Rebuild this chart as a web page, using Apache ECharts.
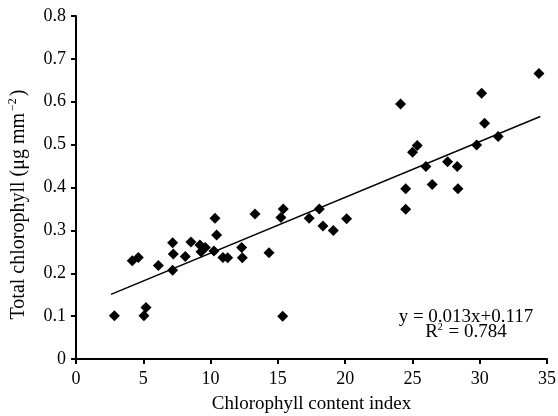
<!DOCTYPE html>
<html><head><meta charset="utf-8">
<script src="https://cdn.jsdelivr.net/npm/echarts@6/dist/echarts.min.js"></script>
<style>html,body{margin:0;padding:0;background:#fff}#c{width:558px;height:416px}</style>
</head><body><div id="c"></div>
<script>
const cciValues = [2.85,4.18,4.63,5.05,5.2,6.12,7.18,7.23,7.18,8.12,8.54,9.21,9.29,9.61,10.33,10.45,10.25,10.92,11.27,12.31,12.36,13.3,14.34,15.4,15.23,15.36,17.33,18.08,18.35,19.12,20.11,24.12,24.5,24.5,25.01,25.36,26.0,26.47,27.61,28.33,28.38,29.77,30.14,30.36,31.37,34.4];
const chlValues = [0.101,0.229,0.237,0.101,0.12,0.218,0.271,0.245,0.207,0.239,0.273,0.266,0.250,0.260,0.328,0.289,0.252,0.237,0.236,0.260,0.236,0.338,0.248,0.350,0.330,0.100,0.328,0.350,0.310,0.300,0.327,0.595,0.397,0.349,0.482,0.498,0.449,0.407,0.460,0.449,0.397,0.499,0.620,0.550,0.519,0.666];
const slope = 0.013, intercept = 0.117;
const fitRange = [2.6, 34.5];
const xTicks = {min:0, max:35, interval:5};
const yTicks = {min:0, max:0.8, interval:0.1};

const font = '"Liberation Serif","Times New Roman",serif';
const points = cciValues.map((x,i)=>[x, chlValues[i]]);
const fitLine = fitRange.map(x=>[x, slope*x+intercept]);

const chart = echarts.init(document.getElementById('c'));
const axisCommon = {
  axisLine:{show:true,onZero:false,lineStyle:{color:'#000',width:2}},
  axisTick:{show:true,inside:false,length:5,lineStyle:{color:'#000',width:2}},
  splitLine:{show:false},
  axisLabel:{color:'#000',fontFamily:font,fontSize:18},
  nameTextStyle:{color:'#000',fontFamily:font,fontSize:19}
};
chart.setOption({
  animation:false,
  backgroundColor:'#fff',
  grid:{left:76,right:11,top:16,bottom:57,containLabel:false,outerBoundsMode:'none'},
  xAxis:Object.assign({}, axisCommon, {
    type:'value', min:xTicks.min, max:xTicks.max, interval:xTicks.interval,
    name:'Chlorophyll content index', nameLocation:'middle', nameGap:36,
    axisLabel:Object.assign({}, axisCommon.axisLabel, {margin:11})
  }),
  yAxis:Object.assign({}, axisCommon, {
    type:'value', min:yTicks.min, max:yTicks.max, interval:yTicks.interval,
    name:'Total chlorophyll (μg mm{sup|−2})', nameLocation:'middle', nameGap:45, nameRotate:90,
    nameTextStyle:{color:'#000',fontFamily:font,fontSize:20,padding:[0,34,0,0],
      rich:{sup:{fontFamily:font,fontSize:12,verticalAlign:'top',padding:[0,2,12,2],color:'#000'}}},
    axisLabel:Object.assign({}, axisCommon.axisLabel, {margin:10})
  }),
  graphic:[
    {type:'text', x:466, y:317.5, style:{text:'y = 0.013x+0.117', fill:'#000', font:'19px '+font, textAlign:'center', textVerticalAlign:'middle'}},
    {type:'text', x:466, y:332.5, style:{text:'R{s|2} = 0.784', fill:'#000', font:'19px '+font, textAlign:'center', textVerticalAlign:'middle',
      rich:{s:{fontSize:10,fontFamily:font,verticalAlign:'top',padding:[0,1,10,0],fill:'#000'}}}}
  ],
  series:[
    {type:'scatter', data:points, symbol:'diamond', symbolSize:11, itemStyle:{color:'#000',opacity:1}, z:3},
    {type:'line', data:fitLine, showSymbol:false, symbol:'none', lineStyle:{color:'#000',width:1.5}, z:2}
  ]
});
</script></body></html>
